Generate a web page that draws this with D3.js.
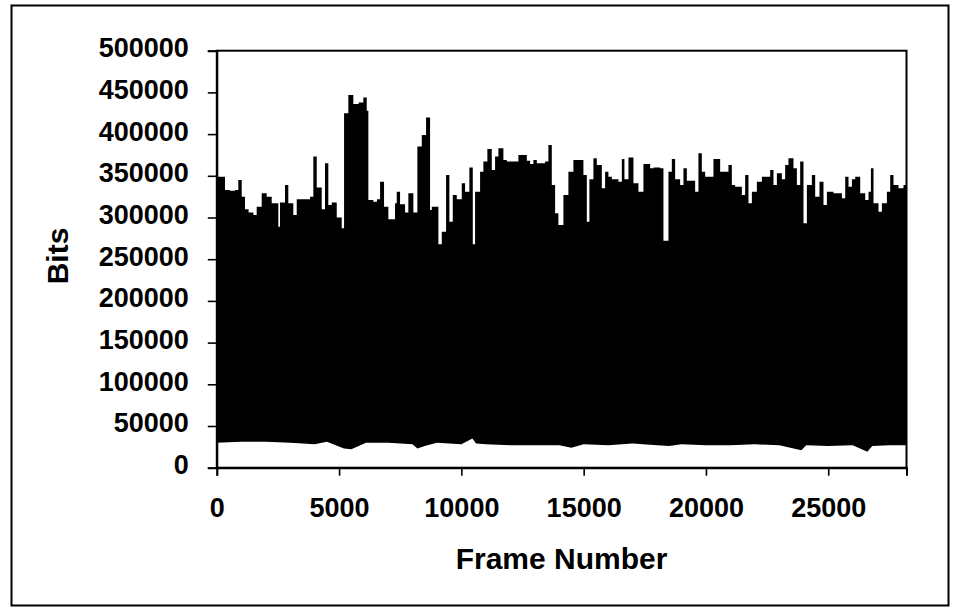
<!DOCTYPE html>
<html><head><meta charset="utf-8">
<script src="https://cdn.jsdelivr.net/npm/d3@7"></script>
<style>body{margin:0;background:#fff}svg{display:block}</style>
</head><body>
<svg id="chart" width="961" height="612"></svg>
<script>
// Upper envelope of the frame-size trace (frame number where a level starts, bits)
const peakFrames = [0,335,540,744,880,1018,1153,1300,1494,1631,1836,2040,2245,2517,2585,2789,2924,3129,3268,3403,3812,3947,4086,4290,4425,4560,4699,4904,5108,5203,5378,5583,5800,5992,6131,6197,6400,6550,6675,6838,7014,7288,7358,7493,7697,7832,8037,8201,8381,8556,8720,8790,9060,9198,9374,9510,9648,9812,10016,10151,10327,10466,10560,10765,10900,11063,11243,11378,11513,11718,11857,12331,12675,12810,12945,13084,13423,13558,13697,13832,13967,14172,14376,14581,14990,15129,15235,15399,15538,15742,15877,16012,16151,16422,16561,16667,16831,17035,17239,17444,17718,17853,18127,18262,18467,18605,18740,18945,19080,19219,19558,19693,19832,19967,20307,20581,20920,21059,21194,21468,21603,21738,21878,22082,22287,22626,22761,22900,23104,23239,23374,23579,23718,23853,23988,24127,24331,24466,24642,24806,24945,25215,25559,25694,25829,25968,26103,26307,26512,26647,26745,26851,27055,27194,27399,27534,27668,27873,28078,28190];
const peakBits = [349000,333000,332000,333000,345000,325000,310000,306000,303000,313000,329000,325000,317000,289000,318000,339000,317000,303000,322000,322000,325000,373000,336000,310000,365000,315000,318000,300000,287000,425000,447000,436000,438000,444000,428000,321000,319000,322000,343000,313000,298000,317000,331000,316000,306000,329000,306000,385000,399000,420000,309000,313000,268000,283000,351000,295000,327000,322000,341000,331000,360000,268000,331000,355000,367000,382000,357000,373000,383000,369000,367000,375000,368000,364000,369000,365000,367000,387000,339000,305000,291000,327000,355000,369000,351000,295000,346000,371000,363000,335000,355000,349000,346000,343000,370000,346000,372000,341000,331000,364000,359000,360000,359000,272000,355000,370000,346000,339000,359000,344000,331000,377000,355000,349000,370000,355000,363000,339000,337000,327000,351000,317000,331000,343000,349000,357000,339000,353000,346000,363000,371000,359000,339000,367000,293000,339000,351000,325000,343000,315000,331000,329000,323000,349000,337000,346000,349000,329000,321000,331000,359000,317000,307000,317000,331000,351000,339000,335000,339000,339000];

// Lower envelope (smallest frames)
const floorFrames = [0,1000,2000,3000,4000,4500,5200,5500,6100,7000,8000,8200,8500,9000,10000,10450,10600,11000,12000,13000,14000,14500,15000,16000,17000,18000,18500,19000,20000,21000,22000,23000,23900,24100,25000,26000,26600,26800,27500,28190];
const floorBits = [30000,31000,31000,30000,28000,31000,23000,22000,30000,30000,28000,23000,26000,30000,28000,35000,29000,28000,27000,27000,27000,24000,28000,27000,29000,27000,26000,28000,27000,27000,28000,27000,21000,27000,26000,27000,19000,26000,27000,27000];

const xTicks = [0,5000,10000,15000,20000,25000];
const yTicks = [0,50000,100000,150000,200000,250000,300000,350000,400000,450000,500000];
const xTitle = "Frame Number";
const yTitle = "Bits";

const FONT = "'Liberation Sans', Arial, Helvetica, sans-serif";
const svg = d3.select("#chart");
const L = 216.8, R = 906.5, T = 50.7, B = 467.7;
const x = d3.scaleLinear().domain([0, 28200]).range([L, R]);
const y = d3.scaleLinear().domain([0, 500000]).range([B, T]);

// outer frame
svg.append("rect").attr("x", 11.5).attr("y", 5.5).attr("width", 937).attr("height", 600)
  .attr("fill", "none").attr("stroke", "#000").attr("stroke-width", 2);

// data
const idx = d3.range(peakFrames.length);
svg.append("path")
  .attr("d", d3.area().x(i => x(peakFrames[i])).y0(y(0)).y1(i => y(peakBits[i])).curve(d3.curveStepAfter)(idx))
  .attr("fill", "#000");
const fidx = d3.range(floorFrames.length);
svg.append("path")
  .attr("d", d3.area().x(i => x(floorFrames[i])).y0(y(0)).y1(i => y(floorBits[i])).curve(d3.curveLinear)(fidx))
  .attr("fill", "#fff");

// plot frame
svg.append("rect").attr("x", L).attr("y", T).attr("width", R - L).attr("height", B - T)
  .attr("fill", "none").attr("stroke", "#000").attr("stroke-width", 2);

// axes
const yAxis = svg.append("g").attr("transform", `translate(${L},0)`)
  .call(d3.axisLeft(y).tickValues(yTicks).tickSize(9).tickPadding(19).tickFormat(d3.format("d")));
const xAxis = svg.append("g").attr("transform", `translate(0,${B})`)
  .call(d3.axisBottom(x).tickValues(xTicks).tickSize(8).tickPadding(22).tickFormat(d3.format("d")));
[yAxis, xAxis].forEach(g => {
  g.select(".domain").attr("stroke", "#000").attr("stroke-width", 2);
  g.selectAll(".tick line").attr("stroke", "#000").attr("stroke-width", 1.6);
  g.selectAll(".tick text").attr("fill", "#000").style("font-family", FONT)
    .style("font-size", "27px").style("font-weight", "bold");
});
yAxis.selectAll(".tick text").attr("dy", "0.22em");

svg.append("text").attr("x", 561.5).attr("y", 569).attr("text-anchor", "middle")
  .style("font-family", FONT).style("font-size", "30px").style("font-weight", "bold").text(xTitle);
svg.append("text").attr("transform", "translate(68,256) rotate(-90)").attr("text-anchor", "middle")
  .style("font-family", FONT).style("font-size", "30px").style("font-weight", "bold").text(yTitle);
</script>
</body></html>
